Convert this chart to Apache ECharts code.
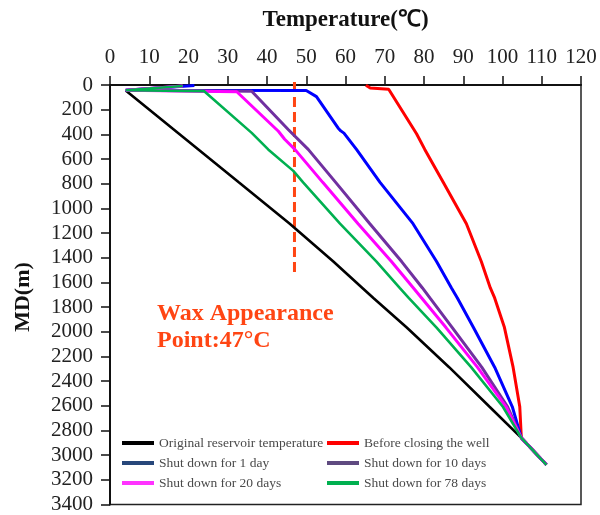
<!DOCTYPE html>
<html>
<head>
<meta charset="utf-8">
<title>Wellbore temperature</title>
<script src="https://cdn.jsdelivr.net/npm/echarts@6/dist/echarts.min.js"></script>
<style>
  html, body { margin: 0; padding: 0; background: #fff; }
  #myChart { width: 600px; height: 515px; }
</style>
</head>
<body>
<div id="myChart"></div>
<script>
// [temperature (°C), MD (m)]
var original = [[4, 45], [19.3, 440], [32.8, 789], [45.8, 1124], [56.9, 1431], [64.3, 1645], [67.1, 1726],
	[75.6, 1966], [86.4, 2287], [96.7, 2608], [104.8, 2860], [111.2, 3078]];
var beforeClosing = [[65.2, 2], [66.3, 25], [71, 35], [78.1, 395], [80.2, 522], [84.9, 789], [90.8, 1124],
	[94.6, 1431], [96.9, 1645], [98.0, 1726], [100.5, 1966], [102.7, 2287], [104.4, 2608], [104.8, 2860], [111.2, 3078]];
var shut1 = [[21.5, 5], [4, 42], [50, 45], [52.6, 94], [58.1, 348], [58.8, 372], [59.6, 390], [62.8, 522],
	[68.8, 789], [77.2, 1124], [83.2, 1431], [87.0, 1645], [88.5, 1726], [92.6, 1966], [98.0, 2287],
	[102.5, 2608], [104.8, 2860], [111.2, 3078]];
var shut10 = [[18.5, 8], [4, 42], [36.1, 50], [45.4, 361], [50.5, 522], [57.5, 789], [66.2, 1124],
	[74.3, 1431], [79.6, 1645], [81.5, 1726], [87.2, 1966], [94.7, 2287], [101.3, 2608], [104.8, 2860], [111.2, 3078]];
var shut20 = [[18.5, 8], [4, 42], [32.3, 55], [42.9, 375], [44.5, 440], [47.1, 522], [54.2, 789], [63.2, 1124],
	[71.7, 1431], [77.3, 1645], [79.4, 1726], [85.6, 1966], [93.6, 2287], [100.9, 2608], [104.8, 2860], [111.2, 3078]];
var shut78 = [[18.5, 8], [4, 42], [24, 50], [36.1, 388], [40.3, 522], [46.7, 696], [49.2, 789], [58.6, 1124],
	[67.9, 1431], [73.8, 1645], [76.1, 1726], [83.2, 1966], [92.0, 2287], [100.1, 2608], [104.8, 2860], [111.2, 3078]];

var waxPoint = [[47, -25], [47, 1540]];

var seriesNames = ['Original reservoir temperature', 'Before closing the well', 'Shut down for 1 day',
	'Shut down for 10 days', 'Shut down for 20 days', 'Shut down for 78 days'];
var lineColors = ['#000000', '#ff0000', '#0000ff', '#7030a0', '#ff00ff', '#00b050'];
var legendColors = ['#000000', '#ff0000', '#27477a', '#5f4a80', '#ff33ff', '#00b050'];

window.onload = function () {
	'use strict';

	var serif = '"Liberation Serif", "Times New Roman", serif';
	var seriesData = [original, beforeClosing, shut1, shut10, shut20, shut78];
	var widths = [2.6, 3, 3, 3, 3, 2.6];

	var series = [];
	for (var i = 0; i < seriesData.length; i++) {
		series.push({
			name: seriesNames[i],
			type: 'line',
			data: seriesData[i],
			symbol: 'none',
			lineStyle: { color: lineColors[i], width: widths[i] },
			itemStyle: { color: lineColors[i] },
			z: 2 + i
		});
	}
	// wax appearance point
	series.push({
		type: 'line',
		data: waxPoint,
		symbol: 'none',
		clip: false,
		silent: true,
		lineStyle: { color: '#ff4513', width: 3, type: [10, 5] },
		z: 1
	});

	function legendFor(idx, left) {
		return {
			orient: 'vertical',
			left: left,
			top: 436,
			padding: 0,
			itemWidth: 32,
			itemHeight: 4,
			itemGap: 6,
			icon: 'rect',
			selectedMode: false,
			textStyle: { fontFamily: serif, fontSize: 13.5, color: '#4a4a4a', lineHeight: 14 },
			data: idx.map(function (k) {
				return { name: seriesNames[k], itemStyle: { color: legendColors[k] } };
			})
		};
	}

	var option = {
		animation: false,
		backgroundColor: '#fff',
		grid: {
			left: 110,
			right: 19,
			top: 85,
			bottom: 6,
			show: true,
			borderColor: '#222',
			borderWidth: 1.5
		},
		xAxis: {
			type: 'value',
			position: 'top',
			min: 0,
			max: 120,
			interval: 10,
			name: 'Temperature(℃)',
			nameLocation: 'middle',
			nameGap: 53,
			nameTextStyle: { fontFamily: serif, fontSize: 23, fontWeight: 'bold', color: '#111' },
			axisLine: { lineStyle: { color: '#111', width: 2 } },
			axisTick: { length: 9, lineStyle: { color: '#111', width: 1.5 } },
			axisLabel: { margin: 17, fontFamily: serif, fontSize: 21, color: '#222' },
			splitLine: { show: false }
		},
		yAxis: {
			type: 'value',
			inverse: true,
			min: 0,
			max: 3400,
			interval: 200,
			axisLine: { show: true, lineStyle: { color: '#111', width: 2 } },
			axisTick: { show: true, length: 9, lineStyle: { color: '#111', width: 1.5 } },
			axisLabel: {
				margin: 17,
				fontFamily: serif,
				fontSize: 21,
				color: '#222',
				formatter: function (v) { return String(v); }
			},
			splitLine: { show: false }
		},
		legend: [legendFor([0, 2, 4], 122), legendFor([1, 3, 5], 327)],
		graphic: [
			{
				type: 'text',
				x: 23,
				y: 297,
				rotation: Math.PI / 2,
				style: {
					text: 'MD(m)',
					font: 'bold 22px ' + serif,
					fill: '#111',
					textAlign: 'center',
					textVerticalAlign: 'middle'
				}
			},
			{
				type: 'text',
				left: 157,
				top: 300,
				style: {
					text: 'Wax Appearance\nPoint:47°C',
					font: 'bold 24px ' + serif,
					lineHeight: 27,
					fill: '#ff4513'
				}
			}
		],
		series: series
	};

	var myChart = echarts.init(document.getElementById('myChart'));
	myChart.setOption(option);
};
</script>
</body>
</html>
